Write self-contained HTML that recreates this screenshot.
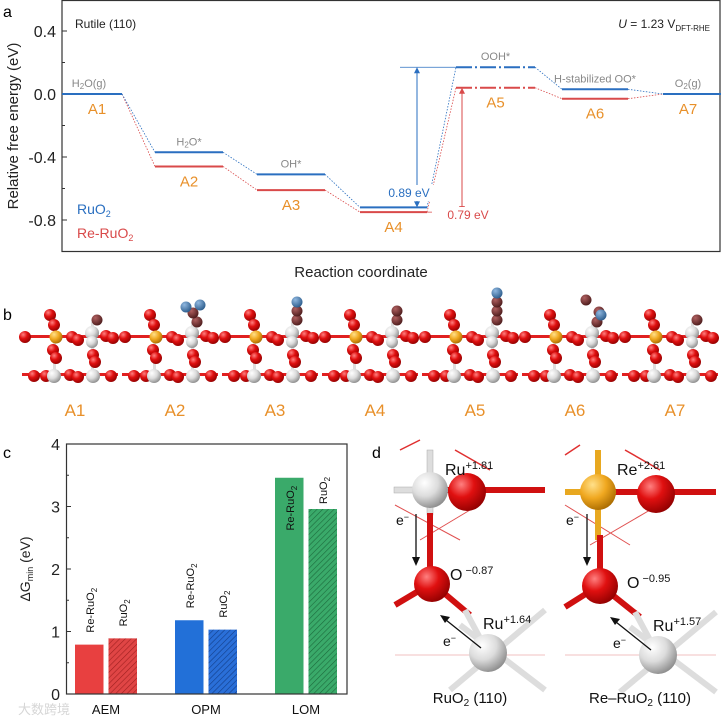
<!DOCTYPE html>
<html><head><meta charset="utf-8"><style>
html,body{margin:0;padding:0;background:#fff;}
svg{display:block;font-family:"Liberation Sans","Noto Sans CJK SC",sans-serif;}
</style></head><body>
<svg id="fig" width="722" height="720" viewBox="0 0 722 720" xmlns="http://www.w3.org/2000/svg">
<defs>
<pattern id="hatchR" patternUnits="userSpaceOnUse" width="4" height="4" patternTransform="rotate(45)"><rect width="4" height="4" fill="#e04545"/><line x1="0" y1="0" x2="0" y2="4" stroke="#a02020" stroke-width="1.2"/></pattern>
<pattern id="hatchB" patternUnits="userSpaceOnUse" width="4" height="4" patternTransform="rotate(45)"><rect width="4" height="4" fill="#2a6fd8"/><line x1="0" y1="0" x2="0" y2="4" stroke="#123e88" stroke-width="1.2"/></pattern>
<pattern id="hatchG" patternUnits="userSpaceOnUse" width="4" height="4" patternTransform="rotate(45)"><rect width="4" height="4" fill="#3aaa6a"/><line x1="0" y1="0" x2="0" y2="4" stroke="#1c6a3c" stroke-width="1.2"/></pattern>
<radialGradient id="gR" cx="0.35" cy="0.3" r="0.75"><stop offset="0" stop-color="#ff8080"/><stop offset="0.45" stop-color="#e01010"/><stop offset="1" stop-color="#900000"/></radialGradient>
<radialGradient id="gW" cx="0.35" cy="0.3" r="0.75"><stop offset="0" stop-color="#ffffff"/><stop offset="0.5" stop-color="#dcdcdc"/><stop offset="1" stop-color="#8a8a8a"/></radialGradient>
<radialGradient id="gY" cx="0.35" cy="0.3" r="0.75"><stop offset="0" stop-color="#ffe08a"/><stop offset="0.5" stop-color="#f0a820"/><stop offset="1" stop-color="#a86a00"/></radialGradient>
<radialGradient id="gD" cx="0.35" cy="0.3" r="0.75"><stop offset="0" stop-color="#b06060"/><stop offset="1" stop-color="#4a1a1a"/></radialGradient>
<radialGradient id="gBl" cx="0.35" cy="0.3" r="0.75"><stop offset="0" stop-color="#90b8e0"/><stop offset="1" stop-color="#2a5a8a"/></radialGradient>
</defs>

<g id="panelA">
<text x="3" y="17" font-size="16">a</text>
<rect x="62" y="0.5" width="658" height="251" fill="none" stroke="#333" stroke-width="1.2"/>
<text x="75" y="28" font-size="12" fill="#222">Rutile (110)</text>
<text x="710" y="28" font-size="12" text-anchor="end" fill="#222"><tspan font-style="italic">U</tspan> = 1.23 V<tspan font-size="8" dy="3">DFT-RHE</tspan></text>
<text transform="translate(18,126) rotate(-90)" font-size="15" text-anchor="middle" fill="#222">Relative free energy (eV)</text>
<text x="361" y="277" font-size="15" text-anchor="middle" fill="#222">Reaction coordinate</text>
<g id="aTicks"></g>
<g id="aLines"></g>
<text x="77" y="214" font-size="14" fill="#2a6fc0">RuO<tspan font-size="9" dy="3">2</tspan></text>
<text x="77" y="238" font-size="14" fill="#d94a4a">Re-RuO<tspan font-size="9" dy="3">2</tspan></text>
</g>

<g id="panelB">
<text x="3" y="320" font-size="16">b</text>
<g id="bStructs"></g>
</g>

<g id="panelC">
<text x="3" y="458" font-size="16">c</text>
<text transform="translate(30,569) rotate(-90)" font-size="14" text-anchor="middle" fill="#222">ΔG<tspan font-size="9" dy="3">min</tspan><tspan dy="-3"> (eV)</tspan></text>
<g id="cBars"></g>
<rect x="66.5" y="444" width="280.5" height="250" fill="none" stroke="#333" stroke-width="1.2"/>
<g id="cTicks"></g>
<text x="18" y="714" font-size="13" fill="#ccc" opacity="0.8">大数跨境</text>
</g>

<g id="panelD">
<text x="372" y="458" font-size="16">d</text>
<g id="dLeft">
<line x1="400" y1="450" x2="420" y2="440" stroke="#e03030" stroke-width="1.5"/>
<line x1="455" y1="450" x2="490" y2="470" stroke="#e03030" stroke-width="1.5"/>
<line x1="395" y1="505" x2="460" y2="540" stroke="#e05050" stroke-width="1"/>
<line x1="420" y1="540" x2="470" y2="510" stroke="#e05050" stroke-width="1"/>
<line x1="395" y1="655" x2="545" y2="655" stroke="#f0c0c0" stroke-width="1"/>
<rect x="427" y="450" width="6" height="40" fill="#ddd" stroke="#aaa" stroke-width="0.5"/>
<rect x="394" y="487" width="36" height="6" fill="#ddd" stroke="#aaa" stroke-width="0.5"/>
<rect x="430" y="487" width="115" height="6" fill="#d01010"/>
<rect x="430" y="488" width="18" height="4" fill="#ddd"/>
<rect x="427" y="490" width="6" height="25" fill="#ddd" stroke="#aaa" stroke-width="0.5"/>
<rect x="427" y="513" width="6" height="70" fill="#d01010"/>
<line x1="432" y1="583" x2="395" y2="605" stroke="#d01010" stroke-width="6"/>
<line x1="432" y1="583" x2="470" y2="615" stroke="#d01010" stroke-width="6"/>
<line x1="465" y1="610" x2="488" y2="653" stroke="#ddd" stroke-width="6"/>
<line x1="450" y1="690" x2="545" y2="610" stroke="#ddd" stroke-width="6"/>
<line x1="460" y1="625" x2="545" y2="690" stroke="#ddd" stroke-width="6"/>
<circle cx="430" cy="490" r="18" fill="url(#gW)"/>
<circle cx="467" cy="492" r="19" fill="url(#gR)"/>
<circle cx="432" cy="584" r="18" fill="url(#gR)"/>
<circle cx="488" cy="653" r="19" fill="url(#gW)"/>
<text x="445" y="475" font-size="16" fill="#111">Ru<tspan font-size="11" dy="-6">+1.81</tspan></text>
<text x="396" y="525" font-size="14" fill="#111">e<tspan font-size="9" dy="-5">−</tspan></text>
<line x1="416" y1="514" x2="416" y2="560" stroke="#111" stroke-width="1.3"/><polygon points="412,557 420,557 416,566" fill="#111"/>
<text x="450" y="580" font-size="16" fill="#111">O<tspan font-size="11" dy="-6"> −0.87</tspan></text>
<text x="483" y="629" font-size="16" fill="#111">Ru<tspan font-size="11" dy="-6">+1.64</tspan></text>
<text x="443" y="646" font-size="14" fill="#111">e<tspan font-size="9" dy="-5">−</tspan></text>
<line x1="481" y1="648" x2="446" y2="620" stroke="#111" stroke-width="1.3"/><polygon points="440,615 450,617 445,623" fill="#111"/>
<text x="470" y="703" font-size="15" text-anchor="middle" fill="#111">RuO<tspan font-size="10" dy="3">2</tspan><tspan dy="-3"> (110)</tspan></text>
</g>
<g id="dRight">
<line x1="565" y1="455" x2="580" y2="445" stroke="#e03030" stroke-width="1.5"/>
<line x1="625" y1="450" x2="660" y2="470" stroke="#e03030" stroke-width="1.5"/>
<line x1="565" y1="505" x2="630" y2="545" stroke="#e05050" stroke-width="1"/>
<line x1="590" y1="545" x2="650" y2="510" stroke="#e05050" stroke-width="1"/>
<line x1="565" y1="655" x2="716" y2="655" stroke="#f0c0c0" stroke-width="1"/>
<rect x="595" y="450" width="6" height="90" fill="#e8a820"/>
<rect x="565" y="489" width="36" height="6" fill="#e8a820"/>
<rect x="598" y="489" width="118" height="6" fill="#d01010"/>
<rect x="598" y="490" width="18" height="4" fill="#e8a820"/>
<rect x="597" y="535" width="6" height="50" fill="#d01010"/>
<line x1="600" y1="585" x2="565" y2="607" stroke="#d01010" stroke-width="6"/>
<line x1="600" y1="585" x2="640" y2="617" stroke="#d01010" stroke-width="6"/>
<line x1="635" y1="612" x2="658" y2="655" stroke="#ddd" stroke-width="6"/>
<line x1="620" y1="692" x2="716" y2="612" stroke="#ddd" stroke-width="6"/>
<line x1="630" y1="627" x2="716" y2="692" stroke="#ddd" stroke-width="6"/>
<circle cx="598" cy="492" r="18" fill="url(#gY)"/>
<circle cx="656" cy="494" r="19" fill="url(#gR)"/>
<circle cx="600" cy="586" r="18" fill="url(#gR)"/>
<circle cx="658" cy="655" r="19" fill="url(#gW)"/>
<text x="617" y="475" font-size="16" fill="#111">Re<tspan font-size="11" dy="-6">+2.61</tspan></text>
<text x="566" y="525" font-size="14" fill="#111">e<tspan font-size="9" dy="-5">−</tspan></text>
<line x1="587" y1="514" x2="587" y2="560" stroke="#111" stroke-width="1.3"/><polygon points="583,557 591,557 587,566" fill="#111"/>
<text x="627" y="588" font-size="16" fill="#111">O<tspan font-size="11" dy="-6"> −0.95</tspan></text>
<text x="653" y="631" font-size="16" fill="#111">Ru<tspan font-size="11" dy="-6">+1.57</tspan></text>
<text x="613" y="648" font-size="14" fill="#111">e<tspan font-size="9" dy="-5">−</tspan></text>
<line x1="651" y1="650" x2="616" y2="622" stroke="#111" stroke-width="1.3"/><polygon points="610,617 620,619 615,625" fill="#111"/>
<text x="640" y="703" font-size="15" text-anchor="middle" fill="#111">Re–RuO<tspan font-size="10" dy="3">2</tspan><tspan dy="-3"> (110)</tspan></text>
</g>
</g>
</svg>
<script>
const states = ["A1","A2","A3","A4","A5","A6","A7"];
const ruo2Energy = [0, -0.37, -0.51, -0.72, 0.17, 0.03, 0];
const reRuo2Energy = [0, -0.46, -0.61, -0.75, 0.04, -0.03, 0];
const intermediateLabels = ["H2O(g)","H2O*","OH*","O*","OOH*","H-stabilized OO*","O2(g)"];
const aTickValues = [0.4, 0.0, -0.4, -0.8];
const aTickLabels = ["0.4","0.0","-0.4","-0.8"];
const barrierLabels = ["0.89 eV","0.79 eV"];
const mechanisms = ["AEM","OPM","LOM"];
const reRuo2Gmin = [0.79, 1.18, 3.46];
const ruo2Gmin = [0.89, 1.03, 2.96];
const cTickValues = [0,1,2,3,4];

const NS="http://www.w3.org/2000/svg";
function mk(tag, attrs, parent){const e=document.createElementNS(NS,tag);for(const k in attrs)e.setAttribute(k,attrs[k]);parent.appendChild(e);return e;}

const ay = v => 94 - v*157.5;
const segX = [[62,122],[155,223],[257,325],[360,427],[456,535],[562,628],[663,721]];
const gT = document.getElementById('aTicks');
aTickValues.forEach((v,i)=>{
  const t=mk('line',{x1:62,x2:67,y1:ay(v),y2:ay(v),stroke:'#333','stroke-width':1},gT);
  
  
  const m=mk('line',{x1:62,x2:65,y1:ay(v-0.2),y2:ay(v-0.2),stroke:'#333','stroke-width':1},gT);
  
  
  const l=mk('text',{x:56,y:ay(v)+6,'font-size':16,'text-anchor':'end',fill:'#222'},gT);
  l.textContent=aTickLabels[i];
  
  
});
const gL = document.getElementById('aLines');
function drawSeries(vals,color,name){
  for(let i=0;i<vals.length;i++){
    const [x1,x2]=segX[i];
    const attrs={x1:x1,x2:x2,y1:ay(vals[i]),y2:ay(vals[i]),stroke:color,'stroke-width':2};
    if(i===4) attrs['stroke-dasharray']='16,3,2,3';
    const s=mk('line',attrs,gL);
    
    
    if(i<vals.length-1){
      const c=mk('line',{x1:x2,x2:segX[i+1][0],y1:ay(vals[i]),y2:ay(vals[i+1]),stroke:color,'stroke-width':0.8,'stroke-dasharray':'1.5,1.5'},gL);
      
      
    }
  }
}
drawSeries(reRuo2Energy,'#d94a4a','re-ruo2');
drawSeries(ruo2Energy,'#2a6fc0','ruo2');
states.forEach((s,i)=>{
  const cx=(segX[i][0]+segX[i][1])/2 + (i===0?5:0) + (i===6?-4:0);
  const low=Math.min(ruo2Energy[i],reRuo2Energy[i]);
  const t=mk('text',{x:cx,y:ay(low)+20,'font-size':15,'text-anchor':'middle',fill:'#e8902a'},gL);
  t.textContent=s;
  
  
  const hi=Math.max(ruo2Energy[i],reRuo2Energy[i]);
  const lb=intermediateLabels[i];
  const it=mk('text',{x:cx+(i===0?-8:0),y:ay(hi)-7,'font-size':11,'text-anchor':'middle',fill:'#888'},gL);
  
  
  const m=lb.match(/^(.*?)2(.*)$/);
  if(m && lb.indexOf('-')<0){
    it.appendChild(document.createTextNode(m[1]));
    const sub=mk('tspan',{'font-size':8,dy:2},it); sub.textContent='2';
    const rest=mk('tspan',{dy:-2},it); rest.textContent=m[2];
  } else it.textContent=lb;
});
function arrow(x,yTop,yBot,color,label,ly,refX1,refX2,refY){
  mk('line',{x1:refX1,x2:refX2,y1:refY,y2:refY,stroke:color,'stroke-width':0.8},gL);
  mk('line',{x1:x,x2:x,y1:yTop+4,y2:yBot-4,stroke:color,'stroke-width':1},gL);
  mk('polygon',{points:`${x-3},${yTop+6} ${x+3},${yTop+6} ${x},${yTop}`,fill:color},gL);
  mk('polygon',{points:`${x-3},${yBot-6} ${x+3},${yBot-6} ${x},${yBot}`,fill:color},gL);
  mk('rect',{x:x-30,y:ly-12,width:60,height:16,fill:'#fff'},gL);
  const t=mk('text',{x:x+(color==='#2a6fc0'?-8:6),y:ly,'font-size':12,'text-anchor':'middle',fill:color},gL);
  t.textContent=label;
  
  
}
arrow(417,ay(ruo2Energy[4]),ay(ruo2Energy[3]),'#2a6fc0',barrierLabels[0],197,400,456,ay(ruo2Energy[4]));
arrow(462,ay(reRuo2Energy[4]),ay(reRuo2Energy[3]),'#d94a4a',barrierLabels[1],219,427,472,ay(reRuo2Energy[3]));

const gB=document.getElementById('bStructs');
const adsorbates=[["D"],["D","D","B","B"],["D","D","B"],["D","D"],["D","D","D","B"],["D","D","B","D"],["D"]];
function atom(x,y,r,fill){mk('circle',{cx:x,cy:y,r:r,fill:fill},gB);}
for(let i=0;i<7;i++){
  const x0=20+100*i;
  const g=gB;
  mk('rect',{x:x0+2,y:335,width:96,height:3,fill:'#e02020'},g);
  mk('rect',{x:x0+2,y:373,width:96,height:3,fill:'#e02020'},g);
  mk('rect',{x:x0+33,y:315,width:3,height:65,fill:'#ddd'},g);
  mk('rect',{x:x0+71,y:322,width:3,height:60,fill:'#ddd'},g);
  [[x0+30,315],[x0+34,325],[x0+33,350],[x0+36,358],[x0+52,337],[x0+58,340],[x0+86,336],[x0+93,338],[x0+14,376],[x0+26,376],[x0+50,375],[x0+58,377],[x0+73,355],[x0+75,362],[x0+91,376],[x0+5,337]].forEach(p=>atom(p[0],p[1],6,'url(#gR)'));
  atom(x0+36,337,6.5,'url(#gY)');
  atom(x0+72,333,7,'url(#gW)');
  atom(x0+72,342,6,'url(#gW)');
  atom(x0+34,376,7,'url(#gW)');
  atom(x0+73,376,7,'url(#gW)');
  const ads=adsorbates[i];
  ads.forEach((a,k)=>{
    let ax=x0+77, ayy=320-k*9;
    if(i===1){ax=x0+[77,73,66,80][k];ayy=[322,313,307,305][k];}
    if(i===5){ax=x0+[77,79,81,66][k];ayy=[322,312,315,300][k];}
    atom(ax,ayy,5.5,a==='D'?'url(#gD)':'url(#gBl)');
  });
  const t=mk('text',{x:x0+55,y:416,'font-size':17,'text-anchor':'middle',fill:'#e8902a'},gB);
  t.textContent=states[i];
  
  
}

const cy = v => 694 - v*62.5;
const gC=document.getElementById('cBars');
const gCT=document.getElementById('cTicks');
const solid=['#e84040','#2270d8','#3aaa6a'];
const hatch=['url(#hatchR)','url(#hatchB)','url(#hatchG)'];
const groupX=[75,175,275];
mechanisms.forEach((m,i)=>{
  const b1=mk('rect',{x:groupX[i],y:cy(reRuo2Gmin[i]),width:28.5,height:cy(0)-cy(reRuo2Gmin[i]),fill:solid[i]},gC);
  
  
  const b2=mk('rect',{x:groupX[i]+33.5,y:cy(ruo2Gmin[i]),width:28.5,height:cy(0)-cy(ruo2Gmin[i]),fill:hatch[i]},gC);
  
  
  const inside = i===2;
  const ly1 = inside ? cy(reRuo2Gmin[i])+8 : cy(reRuo2Gmin[i])-12;
  const ly2 = inside ? cy(ruo2Gmin[i])-5 : cy(ruo2Gmin[i])-12;
  const t1=mk('text',{transform:`translate(${groupX[i]+19},${ly1}) rotate(-90)`,'font-size':11,'text-anchor':inside?'end':'start',fill:'#111'},gC);
  t1.textContent='Re-RuO';
  const s1=mk('tspan',{'font-size':8,dy:3},t1); s1.textContent='2';
  
  
  const t2=mk('text',{transform:`translate(${groupX[i]+52},${ly2}) rotate(-90)`,'font-size':11,'text-anchor':'start',fill:'#111'},gC);
  t2.textContent='RuO';
  const s2=mk('tspan',{'font-size':8,dy:3},t2); s2.textContent='2';
  
  
  const xl=mk('text',{x:groupX[i]+31,y:714,'font-size':13,'text-anchor':'middle',fill:'#111'},gCT);
  xl.textContent=m;
  
  
});
cTickValues.forEach(v=>{
  const t=mk('line',{x1:66.5,x2:71,y1:cy(v),y2:cy(v),stroke:'#333','stroke-width':1},gCT);
  
  
  if(v<4){const m=mk('line',{x1:66.5,x2:69,y1:cy(v+0.5),y2:cy(v+0.5),stroke:'#333','stroke-width':1},gCT);
  
  }
  const l=mk('text',{x:60,y:cy(v)+6,'font-size':16,'text-anchor':'end',fill:'#222'},gCT);
  l.textContent=String(v);
  
  
});
</script>
</body></html>
